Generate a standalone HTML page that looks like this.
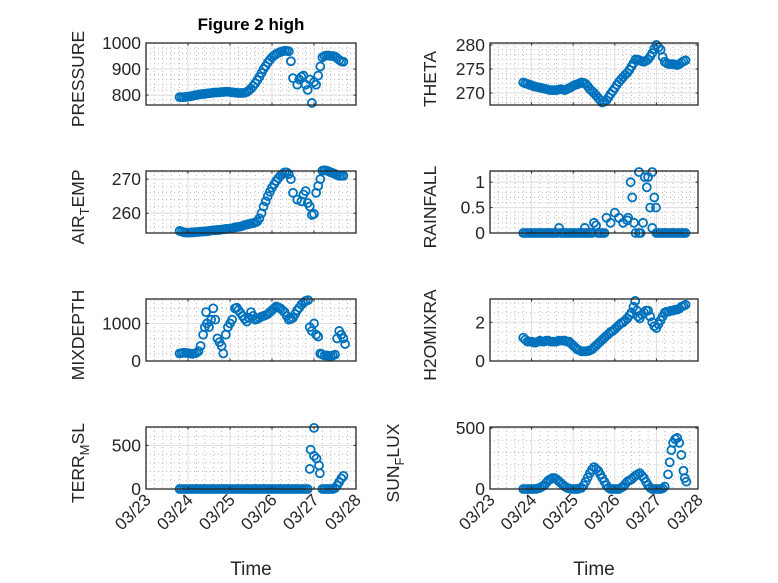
<!DOCTYPE html>
<html><head><meta charset="utf-8"><style>
html,body{margin:0;padding:0;background:#fff;}
svg{display:block;font-family:"Liberation Sans",sans-serif;}
</style></head><body>
<svg id="fig" width="778" height="583" viewBox="0 0 778 583" xmlns="http://www.w3.org/2000/svg">
<rect width="778" height="583" fill="#fff"/>
<text x="251" y="30" text-anchor="middle" font-size="17" font-weight="bold" fill="#000">Figure 2 high</text>
</svg>
<script>
// X tick labels (days since 03/23)
const xTickLabels = ["03/23","03/24","03/25","03/26","03/27","03/28"];
// PRESSURE
const pressureT = [0.8,0.85,0.9,0.95,1.0,1.05,1.1,1.15,1.2,1.25,1.3,1.35,1.4,1.45,1.5,1.55,1.6,1.65,1.7,1.75,1.8,1.85,1.9,1.95,2.0,2.05,2.1,2.15,2.2,2.25,2.3,2.35,2.4,2.45,2.5,2.55,2.6,2.65,2.7,2.75,2.8,2.85,2.9,2.95,3.0,3.05,3.1,3.15,3.2,3.25,3.3,3.35,3.4,3.45,3.5,3.6,3.65,3.7,3.75,3.8,3.85,3.9,3.95,4.0,4.05,4.1,4.15,4.2,4.25,4.3,4.35,4.4,4.45,4.5,4.55,4.6,4.65,4.7];
const pressureV = [792,792,792,793,794,795,797,799,800,802,803,804,805,806,807,808,809,810,810,811,812,812,813,813,812,811,810,809,808,808,808,809,812,818,825,835,845,857,870,885,900,912,925,935,945,952,958,962,966,968,970,970,968,930,865,840,860,870,875,840,820,860,770,850,840,875,910,945,950,952,952,950,950,948,942,935,930,928];
// THETA
const thetaT = [0.8,0.85,0.9,0.95,1.0,1.05,1.1,1.15,1.2,1.25,1.3,1.35,1.4,1.45,1.5,1.55,1.6,1.65,1.7,1.75,1.8,1.85,1.9,1.95,2.0,2.05,2.1,2.15,2.2,2.25,2.3,2.35,2.4,2.45,2.5,2.55,2.6,2.65,2.7,2.75,2.8,2.85,2.9,2.95,3.0,3.05,3.1,3.15,3.2,3.25,3.3,3.35,3.4,3.45,3.5,3.55,3.6,3.65,3.7,3.75,3.8,3.85,3.9,3.95,4.0,4.05,4.1,4.15,4.2,4.25,4.3,4.35,4.4,4.45,4.5,4.55,4.6,4.65,4.7];
const thetaV = [272.2,272.0,271.9,271.7,271.6,271.4,271.3,271.2,271.1,271.0,270.9,270.8,270.7,270.6,270.6,270.6,270.6,270.7,270.8,270.7,270.6,270.8,271.0,271.2,271.5,271.7,271.8,272.0,272.2,272.1,271.9,271.4,270.8,270.4,270.0,269.5,269.0,268.5,268.0,268.2,268.5,269.1,269.8,270.4,271.0,271.7,272.3,272.8,273.3,273.8,274.2,274.8,275.5,276.2,277.0,276.9,276.8,276.6,276.5,276.7,277.0,277.6,278.3,279.2,280.0,279.5,279.0,277.5,276.5,276.2,276.0,276.0,276.0,275.9,275.8,276.0,276.3,276.6,276.8];
// AIR_TEMP
const airT = [0.8,0.85,0.9,0.95,1.0,1.05,1.1,1.15,1.2,1.25,1.3,1.35,1.4,1.45,1.5,1.55,1.6,1.65,1.7,1.75,1.8,1.85,1.9,1.95,2.0,2.05,2.1,2.15,2.2,2.25,2.3,2.35,2.4,2.45,2.5,2.55,2.6,2.65,2.7,2.75,2.8,2.85,2.9,2.95,3.0,3.05,3.1,3.15,3.2,3.25,3.3,3.35,3.4,3.45,3.5,3.6,3.7,3.75,3.8,3.85,3.9,3.95,4.0,4.05,4.1,4.15,4.2,4.25,4.3,4.35,4.4,4.45,4.5,4.55,4.6,4.65,4.7];
const airV = [254.8,254.6,254.4,254.3,254.3,254.3,254.4,254.4,254.5,254.5,254.6,254.6,254.7,254.7,254.8,254.9,255.0,255.0,255.1,255.1,255.2,255.3,255.4,255.4,255.5,255.6,255.8,255.9,256.0,256.1,256.3,256.5,256.7,256.8,257.0,257.1,257.3,257.6,258.5,260.0,262.0,263.5,265.0,266.3,267.5,268.5,269.5,270.3,271.0,271.5,272.0,272.0,271.5,270.0,266.0,264.0,263.5,265.5,266.5,263.0,262.0,259.5,259.8,266.0,268.0,270.0,272.5,272.6,272.5,272.3,272.0,271.8,271.5,271.2,271.0,271.0,271.0];
// RAINFALL
const rainT = [0.8,0.85,0.9,0.95,1.0,1.05,1.1,1.15,1.2,1.25,1.3,1.35,1.4,1.45,1.5,1.55,1.6,1.66,1.7,1.75,1.8,1.85,1.9,1.95,2.0,2.05,2.1,2.15,2.2,2.25,2.28,2.3,2.35,2.4,2.45,2.5,2.55,2.6,2.65,2.7,2.75,2.8,2.9,3.0,3.1,3.2,3.3,3.32,3.38,3.42,3.46,3.5,3.58,3.58,3.62,3.68,3.72,3.77,3.8,3.85,3.9,3.9,3.95,3.99,4.0,4.05,4.1,4.15,4.2,4.25,4.3,4.35,4.4,4.45,4.5,4.55,4.6,4.65,4.7];
const rainV = [0,0,0,0,0,0,0,0,0,0,0,0,0,0,0,0,0,0.1,0,0,0,0,0,0,0,0,0,0,0,0,0.1,0,0,0,0,0.2,0.15,0,0,0,0,0.3,0.2,0.4,0.3,0.2,0.25,0.3,1.0,0.7,0.2,0.0,1.2,0.0,0.0,0.2,1.1,0.9,1.1,0.5,1.2,0.1,0.7,0.5,0,0,0,0,0,0,0,0,0,0,0,0,0,0,0];
// MIXDEPTH
const mixT = [0.8,0.85,0.9,0.95,1.0,1.05,1.1,1.15,1.2,1.25,1.3,1.36,1.4,1.43,1.45,1.5,1.55,1.6,1.65,1.7,1.75,1.8,1.84,1.9,1.95,2.0,2.05,2.12,2.16,2.2,2.25,2.3,2.35,2.4,2.45,2.5,2.55,2.6,2.65,2.7,2.75,2.8,2.85,2.9,2.95,3.0,3.05,3.1,3.15,3.2,3.25,3.3,3.35,3.4,3.45,3.5,3.55,3.6,3.65,3.7,3.75,3.8,3.86,3.9,3.95,4.0,4.05,4.1,4.15,4.19,4.25,4.3,4.35,4.4,4.45,4.5,4.55,4.6,4.65,4.7,4.74];
const mixV = [200,210,220,215,210,200,190,200,220,260,400,700,900,1300,1000,900,1100,1400,1100,600,500,400,200,700,900,1000,1100,1400,1420,1350,1280,1200,1120,1050,1150,1300,1200,1100,1120,1150,1180,1200,1220,1250,1300,1350,1400,1450,1430,1400,1350,1300,1200,1100,1120,1150,1250,1350,1420,1500,1550,1600,1620,900,800,1000,700,650,200,180,150,150,140,130,150,170,600,800,700,600,450];
// H2OMIXRA
const h2oT = [0.8,0.85,0.9,0.95,1.0,1.05,1.1,1.15,1.2,1.25,1.3,1.35,1.4,1.45,1.5,1.55,1.6,1.65,1.7,1.75,1.8,1.85,1.9,1.95,2.0,2.05,2.1,2.15,2.2,2.25,2.3,2.35,2.4,2.45,2.5,2.55,2.6,2.65,2.7,2.75,2.8,2.85,2.9,2.95,3.0,3.05,3.1,3.15,3.2,3.25,3.3,3.35,3.4,3.45,3.49,3.53,3.56,3.6,3.65,3.7,3.75,3.8,3.85,3.9,3.95,4.0,4.05,4.1,4.15,4.2,4.25,4.3,4.35,4.4,4.45,4.5,4.55,4.6,4.65,4.7];
const h2oV = [1.2,1.1,1.0,1.0,1.0,0.95,0.95,1.0,1.05,1.0,1.0,1.05,1.05,1.0,1.0,1.0,1.0,1.05,1.05,1.05,1.05,1.0,1.0,0.9,0.8,0.7,0.6,0.55,0.5,0.5,0.5,0.52,0.55,0.6,0.7,0.8,0.9,1.0,1.1,1.2,1.3,1.4,1.5,1.55,1.65,1.75,1.85,1.95,2.0,2.1,2.2,2.35,2.5,2.8,3.1,2.6,2.3,2.2,2.4,2.5,2.6,2.6,2.3,2.0,1.8,1.7,1.9,2.1,2.3,2.5,2.55,2.55,2.6,2.6,2.65,2.65,2.7,2.8,2.85,2.9];
// TERR_MSL
const terrT = [0.8,0.85,0.9,0.95,1.0,1.05,1.1,1.15,1.2,1.25,1.3,1.35,1.4,1.45,1.5,1.55,1.6,1.65,1.7,1.75,1.8,1.85,1.9,1.95,2.0,2.05,2.1,2.15,2.2,2.25,2.3,2.35,2.4,2.45,2.5,2.55,2.6,2.65,2.7,2.75,2.8,2.85,2.9,2.95,3.0,3.05,3.1,3.15,3.2,3.25,3.3,3.35,3.4,3.45,3.5,3.55,3.6,3.65,3.7,3.75,3.8,3.85,3.9,3.92,4.0,4.0,4.06,4.12,4.14,4.2,4.25,4.3,4.35,4.4,4.45,4.5,4.55,4.6,4.65,4.7];
const terrV = [0,0,0,0,0,0,0,0,0,0,0,0,0,0,0,0,0,0,0,0,0,0,0,0,0,0,0,0,0,0,0,0,0,0,0,0,0,0,0,0,0,0,0,0,0,0,0,0,0,0,0,0,0,0,0,0,0,0,0,0,0,0,230,450,700,380,350,270,180,0,0,0,0,0,0,10,40,80,120,150];
// SUN_FLUX
const sunT = [0.8,0.85,0.9,0.95,1.0,1.05,1.1,1.15,1.2,1.25,1.3,1.35,1.4,1.45,1.5,1.55,1.6,1.65,1.7,1.75,1.8,1.85,1.9,1.95,2.0,2.05,2.1,2.15,2.2,2.25,2.3,2.35,2.4,2.45,2.5,2.55,2.6,2.65,2.7,2.75,2.8,2.85,2.9,2.95,3.0,3.05,3.1,3.15,3.2,3.25,3.3,3.35,3.4,3.45,3.5,3.55,3.6,3.65,3.7,3.75,3.8,3.85,3.9,3.95,4.0,4.05,4.1,4.15,4.2,4.28,4.32,4.36,4.4,4.45,4.5,4.55,4.6,4.65,4.68,4.72];
const sunV = [0,0,0,0,0,0,0,5,10,20,30,50,70,80,90,90,80,65,50,35,20,10,5,0,0,0,0,5,10,30,60,95,130,160,180,165,150,120,90,60,30,10,0,0,0,0,0,10,20,40,60,70,80,95,110,120,130,110,90,60,30,10,0,0,0,0,0,5,20,120,220,320,380,410,420,380,280,150,90,60];

const NS="http://www.w3.org/2000/svg";
const svg=document.getElementById('fig');
function mk(tag,attrs,parent){const e=document.createElementNS(NS,tag);for(const k in attrs)e.setAttribute(k,attrs[k]);(parent||svg).appendChild(e);return e;}

const panels=[
 {name:'pressure',L:146,R:356,T:43,yr:[762,1000],ticks:[800,900,1000],minor:20,xs:pressureT,ys:pressureV,label:['PRESSURE'],lx:78},
 {name:'theta',L:490,R:698,T:43,yr:[267.5,280.4],ticks:[270,275,280],minor:1,xs:thetaT,ys:thetaV,label:['THETA'],lx:430},
 {name:'air-temp',L:146,R:356,T:171,yr:[254.2,272.4],ticks:[260,270],minor:2,xs:airT,ys:airV,label:['AIR','T','EMP'],lx:78},
 {name:'rainfall',L:490,R:698,T:171,yr:[0,1.22],ticks:[0,0.5,1],minor:0.1,xs:rainT,ys:rainV,label:['RAINFALL'],lx:430},
 {name:'mixdepth',L:146,R:356,T:299,yr:[0,1650],ticks:[0,1000],minor:200,xs:mixT,ys:mixV,label:['MIXDEPTH'],lx:78},
 {name:'h2omixra',L:490,R:698,T:299,yr:[0,3.2],ticks:[0,2],minor:0.5,xs:h2oT,ys:h2oV,label:['H2OMIXRA'],lx:430},
 {name:'terr-msl',L:146,R:356,T:427,yr:[0,710],ticks:[0,500],minor:100,xs:terrT,ys:terrV,label:['TERR','M','SL'],lx:78,xl:true},
 {name:'sun-flux',L:490,R:698,T:427,yr:[0,510],ticks:[0,500],minor:100,xs:sunT,ys:sunV,label:['SUN','F','LUX'],lx:393,xl:true}
];
const H=62;
panels.forEach(p=>{
 const B=p.T+H;
 const xs=t=>p.L+(t/5)*(p.R-p.L);
 const ys=v=>B-(v-p.yr[0])/(p.yr[1]-p.yr[0])*H;
 const g=mk('g',{});
 
 
 for(let t=0.2;t<5;t+=0.2){ if(Math.abs(t-Math.round(t))<1e-6) continue;
  mk('line',{x1:xs(t),x2:xs(t),y1:p.T,y2:B,stroke:'#bbb','stroke-width':1,'stroke-dasharray':'1 3'},g);}
 const m0=Math.ceil(p.yr[0]/p.minor)*p.minor;
 for(let v=m0;v<p.yr[1];v+=p.minor){ if(p.ticks.some(k=>Math.abs(k-v)<1e-6)) continue;
  mk('line',{x1:p.L,x2:p.R,y1:ys(v),y2:ys(v),stroke:'#bbb','stroke-width':1,'stroke-dasharray':'1 3'},g);}
 for(let i=1;i<5;i++) mk('line',{x1:xs(i),x2:xs(i),y1:p.T,y2:B,stroke:'#dedede','stroke-width':1},g);
 p.ticks.forEach(v=>{ if(ys(v)>p.T+1&&ys(v)<B-1) mk('line',{x1:p.L,x2:p.R,y1:ys(v),y2:ys(v),stroke:'#dedede','stroke-width':1},g);});
 p.xs.forEach((t,i)=>{
  const c=mk('circle',{cx:xs(t),cy:ys(p.ys[i]),r:4,fill:'none',stroke:'#0072BD','stroke-width':1.8},g);
  
  
 });
 const bx=mk('rect',{x:p.L,y:p.T,width:p.R-p.L,height:H,fill:'none',stroke:'#262626','stroke-width':1.3},g);
 
 
 for(let i=0;i<=5;i++){mk('line',{x1:xs(i),x2:xs(i),y1:p.T,y2:p.T+2.5,stroke:'#262626'},g);mk('line',{x1:xs(i),x2:xs(i),y1:B,y2:B-2.5,stroke:'#262626'},g);}
 p.ticks.forEach(v=>{
  mk('line',{x1:p.L,x2:p.L+2.5,y1:ys(v),y2:ys(v),stroke:'#262626'},g);
  mk('line',{x1:p.R,x2:p.R-2.5,y1:ys(v),y2:ys(v),stroke:'#262626'},g);
  const tl=mk('text',{x:p.L-5,y:ys(v)+6,'text-anchor':'end','font-size':17.5,fill:'#262626'},g);
  tl.textContent=String(v);
  
  
 });
 const cy=p.T+H/2+5;
 const yl=mk('text',{x:0,y:0,'text-anchor':'middle','font-size':17.5,fill:'#262626',transform:`translate(${p.lx+6},${cy}) rotate(-90)`},g);
 
 
 if(p.label.length===1){yl.textContent=p.label[0];}
 else{
  const a=mk('tspan',{},yl);a.textContent=p.label[0];
  const b=mk('tspan',{dy:5,'font-size':13},yl);b.textContent=p.label[1];
  const c=mk('tspan',{dy:-5},yl);c.textContent=p.label[2];
 }
 if(p.xl){
  xTickLabels.forEach((s,i)=>{
   const tx=mk('text',{x:0,y:0,'text-anchor':'end','font-size':17,fill:'#262626',transform:`translate(${xs(i)+6},${B+12}) rotate(-45)`},g);
   tx.textContent=s;
   
   
  });
  const xt=mk('text',{x:(p.L+p.R)/2,y:575,'text-anchor':'middle','font-size':19,fill:'#262626'},g);
  xt.textContent='Time';
  
  
 }
});
</script>
</body></html>
